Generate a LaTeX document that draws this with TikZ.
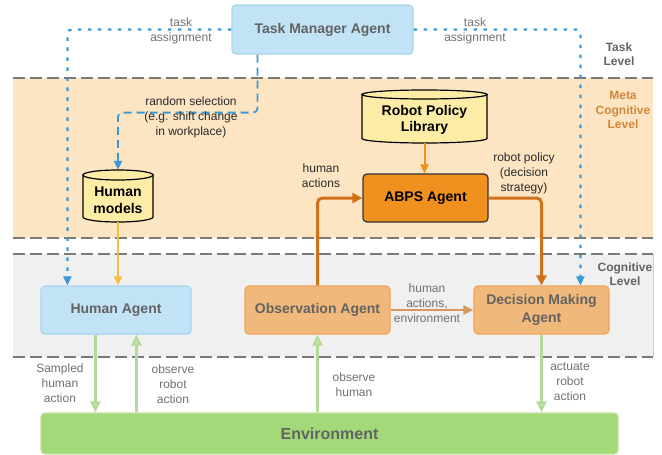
\documentclass[tikz,border=0pt]{standalone}
\usepackage{fontspec}
\setmainfont{Liberation Sans}
\usetikzlibrary{arrows.meta,calc}
\definecolor{bluefill}{HTML}{C2E3F6}
\definecolor{blueborder}{HTML}{A9D3EF}
\definecolor{bluearrow}{HTML}{3A98D6}
\definecolor{peach}{HTML}{FDE4C2}
\definecolor{graybg}{HTML}{F0F0F0}
\definecolor{dashgray}{HTML}{7A7A7A}
\definecolor{txtgray}{HTML}{636363}
\definecolor{lblgray}{HTML}{707070}
\definecolor{darklbl}{HTML}{2A2A2A}
\definecolor{metaorange}{HTML}{D0883A}
\definecolor{cylfill}{HTML}{FDECA6}
\definecolor{abpsfill}{HTML}{F0901E}
\definecolor{agentfill}{HTML}{F0B87A}
\definecolor{agentborder}{HTML}{F0A458}
\definecolor{darkorange}{HTML}{CF711B}
\definecolor{midorange}{HTML}{D7995A}
\definecolor{yellowarrow}{HTML}{F0C040}
\definecolor{envfill}{HTML}{A3D978}
\definecolor{envborder}{HTML}{C2E2A2}
\definecolor{greenarrow}{HTML}{B3DA96}
\definecolor{greenlight}{HTML}{D6EDC4}
\tikzset{
  x=1pt,y=1pt,
  lbl/.style={font=\fontsize{12}{15}\selectfont, text=lblgray, align=center, inner sep=0pt},
  dlbl/.style={lbl, text=darklbl},
  lvl/.style={font=\bfseries\fontsize{12}{14.5}\selectfont, align=center, inner sep=0pt},
  agent/.style={rectangle, rounded corners=4pt, line width=1.2pt, inner sep=0pt,
    font=\bfseries\fontsize{14}{18}\selectfont, text=txtgray, align=center},
  bluebox/.style={agent, fill=bluefill, draw=blueborder},
  orangebox/.style={agent, fill=agentfill, draw=agentborder},
  dashline/.style={draw=dashgray, line width=2pt, dash pattern=on 12pt off 5pt},
  bluedot/.style={draw=bluearrow, line width=2.2pt, dash pattern=on 3.5pt off 6.5pt, rounded corners=4pt,
    -{Triangle[length=9pt,width=8pt,fill=bluearrow]}},
  bluedash/.style={draw=bluearrow, line width=1.8pt, dash pattern=on 8pt off 5pt, rounded corners=4pt,
    -{Triangle[length=9pt,width=8pt,fill=bluearrow]}},
  darkarrow/.style={draw=darkorange, line width=3pt, rounded corners=5pt,
    -{Triangle[length=10pt,width=10pt,fill=darkorange]}},
  greenarr/.style={draw=greenarrow, line width=2.5pt,
    -{Triangle[length=11pt,width=10pt,fill=greenlight]}},
  cyl/.style={draw=black, line width=1.2pt, fill=cylfill},
}
\begin{document}
\begin{tikzpicture}
\useasboundingbox (0,0) rectangle (662,-455);
% bands
\fill[peach] (13,-78) rectangle (653,-238);
\fill[graybg] (13,-254) rectangle (653,-357);
\draw[graybg!85!black, line width=0.6pt] (653,-254) -- (653,-357);
\draw[dashline] (13,-78) -- (653,-78);
\draw[dashline] (13,-238) -- (653,-238);
\draw[dashline] (13,-254) -- (653,-254);
\draw[dashline] (13,-357) -- (653,-357);
% level labels
\node[lvl, text=txtgray] (tasklvl) at (619,-54) {Task\\Level};
\node[lvl, text=metaorange] (metalvl) at (623,-110) {Meta\\Cognitive\\Level};
\node[lvl, text=txtgray] (coglvl) at (625,-274) {Cognitive\\Level};
% task manager
\node[bluebox, minimum width=181pt, minimum height=49pt] (tm) at (322.5,-29.5) {Task Manager Agent};
% cylinders
\node[inner sep=0pt, minimum width=70pt, minimum height=52pt] (hm) at (118,-196) {};
\path[cyl] (83,-175) -- (83,-217) arc[start angle=180,end angle=360,x radius=35,y radius=5] -- (153,-175) -- cycle;
\path[cyl] (118,-175) ellipse [x radius=35, y radius=5];
\node[font=\bfseries\fontsize{14}{17}\selectfont, align=center, inner sep=0pt] (hmt) at (118,-200) {Human\\models};
\node[inner sep=0pt, minimum width=125pt, minimum height=53pt] (rpl) at (424.5,-116.5) {};
\path[cyl] (362,-94.5) -- (362,-138.5) arc[start angle=180,end angle=360,x radius=62.5,y radius=4.5] -- (487,-94.5) -- cycle;
\path[cyl] (424.5,-94.5) ellipse [x radius=62.5, y radius=4.5];
\node[font=\bfseries\fontsize{14}{16}\selectfont, align=center, inner sep=0pt] (rplt) at (424.5,-120) {Robot Policy\\Library};
% ABPS
\node[agent, fill=abpsfill, draw=black!80, text=black, minimum width=125pt, minimum height=48pt] (abps) at (425.5,-198) {ABPS Agent};
% cognitive agents
\node[bluebox, minimum width=150pt, minimum height=48pt] (ha) at (116,-310) {Human Agent};
\node[orangebox, minimum width=145pt, minimum height=48pt] (obs) at (317.5,-310) {Observation Agent};
\node[orangebox, minimum width=135pt, minimum height=48pt] (dma) at (541.5,-310) {Decision Making\\Agent};
% environment
\node[agent, fill=envfill, draw=envborder, font=\bfseries\fontsize{16}{19}\selectfont, minimum width=577pt, minimum height=41pt] (env) at (329.5,-433.5) {Environment};
% blue connectors
\draw[bluedot] (tm.west) -| ($(ha.north west)+(27,0)$);
\draw[bluedot] (tm.east) -| ($(dma.north west)+(107,0)$);
\draw[bluedash] ($(tm.south west)+(26,0)$) -- ++(0,-58) -| (hm.north);
\node[lbl] (ta1) at (181,-30.5) {task\\assignment};
\node[lbl] (ta2) at (475,-30.5) {task\\assignment};
\node[dlbl] (rs) at (191,-117) {random selection\\(e.g. shift change\\in workplace)};
% yellow
\draw[draw=yellowarrow, line width=2pt, -{Triangle[length=9pt,width=8pt,fill=yellowarrow]}] (hm.south) -- (hm.south |- ha.north);
% orange
\draw[draw=abpsfill, line width=2pt, -{Triangle[length=9pt,width=8pt,fill=abpsfill]}] (rpl.south) -- (rpl.south |- abps.north);
\draw[darkarrow] (obs.north) |- (abps.west);
\draw[darkarrow] (abps.east) -| (dma.north);
\node[dlbl] (hact) at (321,-176) {human\\actions};
\node[dlbl] (rpol) at (524,-173) {robot policy\\(decision\\strategy)};
\draw[draw=midorange, line width=2pt, -{Triangle[length=10pt,width=9pt,fill=midorange]}] (obs.east) -- (dma.west);
\node[lbl] (hae) at (427,-303) {human\\actions,\\environment};
% green
\coordinate (sa) at ($(ha.south west)+(55,0)$);
\coordinate (ora) at ($(ha.south west)+(96,0)$);
\draw[greenarr] (sa) -- (sa |- env.north);
\draw[greenarr] (ora |- env.north) -- (ora);
\draw[greenarr] (obs.south |- env.north) -- (obs.south);
\draw[greenarr] (dma.south) -- (dma.south |- env.north);
\node[lbl] (sha) at (60,-383) {Sampled\\human\\action};
\node[lbl] (ora-l) at (173,-384) {observe\\robot\\action};
\node[lbl] (oh) at (354,-385) {observe\\human};
\node[lbl] (ara) at (570,-382) {actuate\\robot\\action};
\end{tikzpicture}
\end{document}
